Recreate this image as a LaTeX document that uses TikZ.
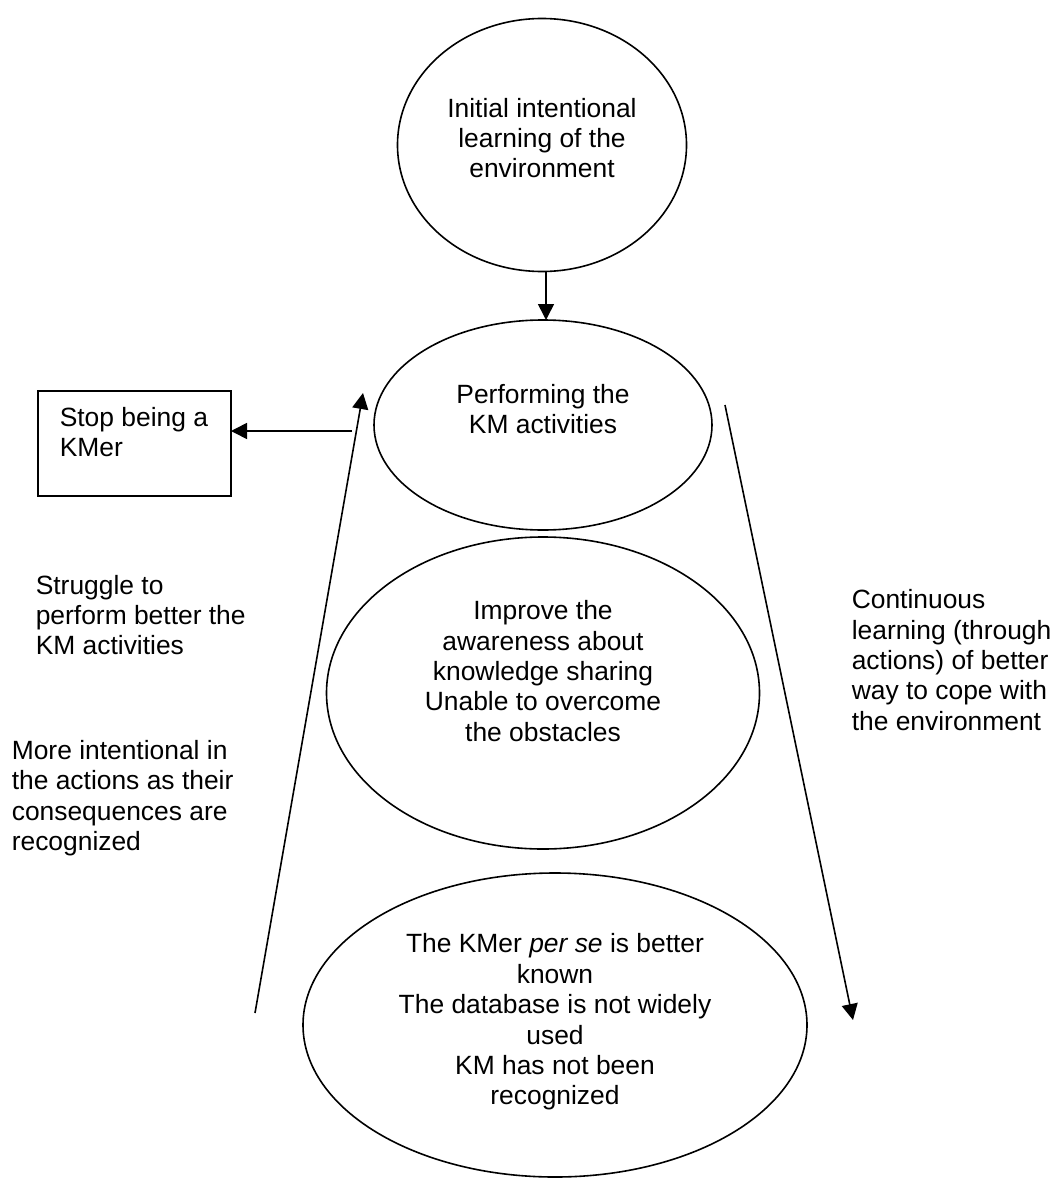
\documentclass[tikz,border=0pt]{standalone}
\usepackage{fontspec}
\setmainfont{Liberation Sans}
\usetikzlibrary{shapes.geometric,arrows.meta}
\begin{document}
\begin{tikzpicture}[x=1pt,y=-1pt,line width=1.6pt,
  ell/.style={draw,ellipse,inner sep=0pt,outer sep=0pt},
  boxst/.style={draw,rectangle,inner sep=0pt,outer sep=0pt},
  txt/.style={font=\fontsize{26.4}{30.4}\selectfont,inner sep=0pt,align=center},
  ltxt/.style={font=\fontsize{26.4}{30.4}\selectfont,inner sep=0pt,align=left,anchor=west},
  arr/.style={-{Triangle[length=16pt,width=16pt]}}]
\useasboundingbox (0,0) rectangle (1053,1180);

% ellipses
\node[ell,minimum width=289pt,minimum height=253pt] (e1) at (542,145) {};
\node[ell,minimum width=338pt,minimum height=210pt] (e2) at (543,425) {};
\node[ell,minimum width=433pt,minimum height=312pt] (e3) at (543,693) {};
\node[ell,minimum width=504pt,minimum height=304pt] (e4) at (555,1025) {};

% texts in ellipses
\node[txt] (t1) at (542,138) {Initial intentional\\learning of the\\environment};
\node[txt] (t2) at (543,409) {Performing the\\KM activities};
\node[txt] (t3) at (543,671) {Improve the\\awareness about\\knowledge sharing\\Unable to overcome\\the obstacles};
\node[txt] (t4) at (555,1022) {The KMer \textit{per se} is better\\known\\The database is not widely\\used\\KM has not been\\recognized};

% box
\node[boxst,minimum width=193pt,minimum height=105pt] (box) at (134.5,443.5) {};
\node[ltxt] (boxt) at (59,432) {Stop being a\\KMer};

% side texts
\node[ltxt] (s1) at (35,615) {Struggle to\\perform better the\\KM activities};
\node[ltxt] (s2) at (11,798) {More intentional in\\the actions as their\\consequences are\\recognized};
\node[ltxt] (s3) at (851,660) {Continuous\\learning (through\\actions) of better\\way to cope with\\the environment};

% connectors
\coordinate (v0) at (546,0);
\draw[arr] (e1.south -| v0) -- (e2.north -| v0);
\coordinate (h0) at (352,431);
\draw[arr] (h0) -- (box.east |- h0);
\coordinate (l0) at (255,1013);
\coordinate (l1) at (363,393);
\draw[arr] (l0) -- (l1);
\coordinate (r0) at (725,405);
\coordinate (r1) at (853,1020);
\draw[arr] (r0) -- (r1);
\end{tikzpicture}
\end{document}
